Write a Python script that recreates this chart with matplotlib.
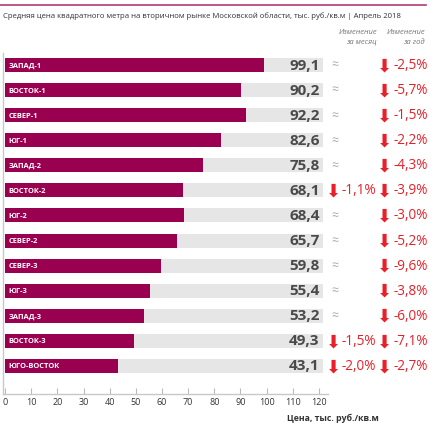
import matplotlib
matplotlib.use("Agg")
import matplotlib.pyplot as plt
import matplotlib.transforms as mtransforms
from matplotlib import font_manager

plt.rcParams['font.family'] = ['Open Sans', 'DejaVu Sans']

# data
regions = ['ЗАПАД-1', 'ВОСТОК-1', 'СЕВЕР-1', 'ЮГ-1', 'ЗАПАД-2', 'ВОСТОК-2', 'ЮГ-2',
           'СЕВЕР-2', 'СЕВЕР-3', 'ЮГ-3', 'ЗАПАД-3', 'ВОСТОК-3', 'ЮГО-ВОСТОК']
prices = [99.1, 90.2, 92.2, 82.6, 75.8, 68.1, 68.4, 65.7, 59.8, 55.4, 53.2, 49.3, 43.1]
change_month = [None, None, None, None, None, -1.1, None, None, None, None, None, -1.5, -2.0]
change_year = [-2.5, -5.7, -1.5, -2.2, -4.3, -3.9, -3.0, -5.2, -9.6, -3.8, -6.0, -7.1, -2.7]
xticks = list(range(0, 130, 10))
full_scale = 121.5  # length of the grey background bars

bar_color = '#990050'
bg_color = '#e6e6e6'
red = '#e8202a'
grey_text = '#4a4a4a'

names = {f.name for f in font_manager.fontManager.ttflist}
narrow = 'Liberation Sans Narrow' if 'Liberation Sans Narrow' in names else 'Open Sans'

W, H = 443, 428
fig = plt.figure(figsize=(W / 100, H / 100), dpi=100)
ax = fig.add_axes([3 / W, 1 - 394 / H, 325 / W, 341 / H])

y = list(range(len(regions)))
ax.barh(y, [full_scale] * len(regions), height=0.56, color=bg_color, zorder=1)
ax.barh(y, prices, height=0.56, color=bar_color, zorder=2)

for i, (name, p) in enumerate(zip(regions, prices)):
    ax.text(1.2, i + 0.04, name, color='white', fontsize=5.4, fontweight='bold',
            va='center', ha='left', zorder=3)
    ax.text(120.3, i + 0.02, f'{p:.1f}'.replace('.', ','), color=grey_text, fontsize=11,
            fontweight='bold', va='center', ha='right', zorder=3)

ax.set_xlim(-0.8, 123.5)
ax.set_ylim(13.12, -0.48)
ax.set_yticks([])
ax.set_xticks(xticks)
ax.tick_params(axis='x', direction='in', length=4, color='#bbbbbb', labelsize=6.5,
               labelcolor='#333333', pad=3)
for s in ['top', 'right']:
    ax.spines[s].set_visible(False)
for s in ['left', 'bottom']:
    ax.spines[s].set_color('#c8c8c8')
    ax.spines[s].set_linewidth(1)

# change columns, placed to the right of the axes
tr = mtransforms.blended_transform_factory(fig.transFigure, ax.transData)
for i, (m, yr) in enumerate(zip(change_month, change_year)):
    if m is None:
        fig.text(335 / W, i, '≈', transform=tr, color='#aaaaaa', fontsize=9,
                 ha='center', va='center')
    else:
        fig.text(333 / W, i + 0.05, '⬇', transform=tr, color=red, fontsize=13,
                 family='DejaVu Sans', ha='center', va='center')
        fig.text(342 / W, i + 0.02, f'{m:.1f}%'.replace('.', ','), transform=tr, color=red,
                 fontsize=9.8, ha='left', va='center')
    fig.text(384 / W, i + 0.05, '⬇', transform=tr, color=red, fontsize=13,
             family='DejaVu Sans', ha='center', va='center')
    fig.text(394 / W, i + 0.02, f'{yr:.1f}%'.replace('.', ','), transform=tr, color=red,
             fontsize=9.8, ha='left', va='center')

# headers
for xr, lines in [(377, ('Изменение', 'за месяц')), (425, ('Изменение', 'за год'))]:
    fig.text(xr / W, 1 - 33 / H, lines[0], color='#777777', fontsize=5.5, style='italic',
             ha='right', va='center')
    fig.text(xr / W, 1 - 42 / H, lines[1], color='#777777', fontsize=5.5, style='italic',
             ha='right', va='center')

# title and top rule
fig.add_artist(plt.Line2D([0, 426 / W], [1 - 5 / H, 1 - 5 / H], color='#b03a78', lw=1.2))
fig.text(3 / W, 1 - 16 / H,
         'Средняя цена квадратного метра на вторичном рынке Московской области, тыс. руб./кв.м | Апрель 2018',
         color='#333333', fontsize=6.9 if narrow != 'Open Sans' else 5.6, family=narrow,
         ha='left', va='center')

fig.text(333 / W, 1 - 418 / H, 'Цена, тыс. руб./кв.м', color='#333333', fontsize=6.3,
         fontweight='bold', ha='center', va='center')

fig.savefig('out.png', dpi=100)
